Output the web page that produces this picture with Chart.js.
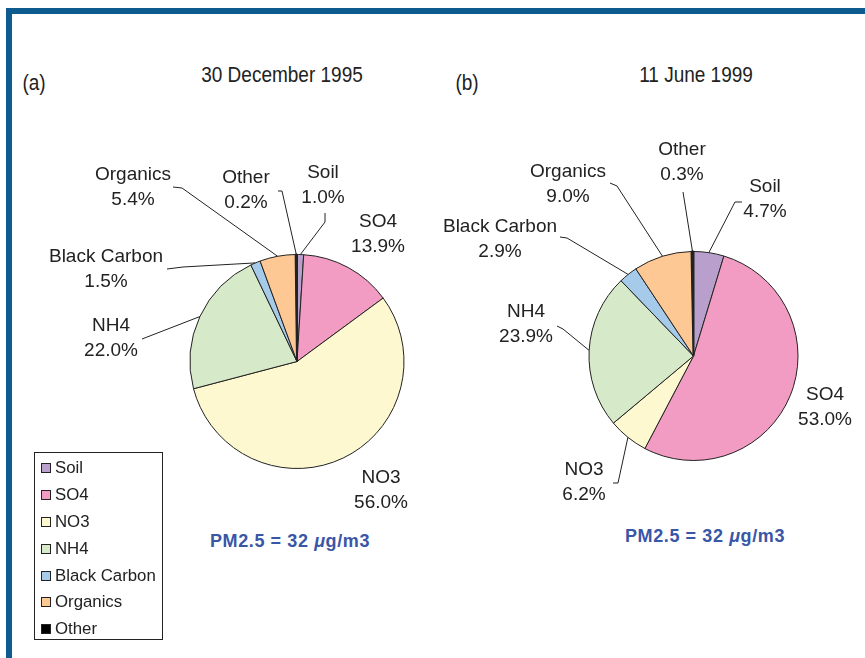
<!DOCTYPE html>
<html>
<head>
<meta charset="utf-8">
<script src="https://cdn.jsdelivr.net/npm/chart.js@4.4.1/dist/chart.umd.min.js"></script>
<style>
  html, body { margin: 0; padding: 0; background: #fff; }
  body { width: 865px; height: 658px; position: relative; overflow: hidden;
         font-family: "Liberation Sans", Arial, sans-serif; color: #222; }
  .frame { position: absolute; left: 6px; top: 8px; width: 900px; height: 700px;
           border-left: 6px solid #0d5b8f; border-top: 6px solid #0d5b8f; }
  canvas { position: absolute; left: 0; top: 0; }
  .txt { position: absolute; white-space: nowrap; line-height: 1; }
  .title { font-size: 19px; transform: translate(-50%, -50%) scaleY(1.12); }
  .pm { font-size: 18px; font-weight: bold; color: #3a56a6; letter-spacing: 0.6px;
        transform: translate(-50%, -50%); }
  .pm i { font-weight: bold; }
  #legend { position: absolute; left: 34px; top: 452px; width: 129px; height: 188px;
            border: 1px solid #222; box-sizing: border-box; padding-top: 2px; }
  #legend div { height: 26.8px; display: flex; align-items: center; font-size: 16.8px; }
  #legend span.sw { width: 8px; height: 8px; border: 1px solid #222; margin: 0 4px 0 6px; }
</style>
</head>
<body>
<div class="frame"></div>

<div class="txt title" style="left:34px; top:83px;">(a)</div>
<div class="txt title" style="left:282px; top:75px;">30 December 1995</div>
<div class="txt title" style="left:467px; top:83px;">(b)</div>
<div class="txt title" style="left:696px; top:75px;">11 June 1999</div>

<div class="txt pm" style="left:290px; top:541px;">PM2.5 = 32 <i>μ</i>g/m3</div>
<div class="txt pm" style="left:705px; top:536px;">PM2.5 = 32 <i>μ</i>g/m3</div>

<canvas id="pieA" width="865" height="658"></canvas>
<canvas id="pieB" width="865" height="658"></canvas>
<div id="legend"></div>

<script>
// PM2.5 composition, percent of mass
const components = ['Soil', 'SO4', 'NO3', 'NH4', 'Black Carbon', 'Organics', 'Other'];
const dec1995 = [1.0, 13.9, 56.0, 22.0, 1.5, 5.4, 0.2];
const jun1999 = [4.7, 53.0, 6.2, 23.9, 2.9, 9.0, 0.3];

const sliceColors = ['#b9a0cc', '#f39cc3', '#fdf8cf', '#d6e9c8', '#a6cbea', '#fdc894', '#000000'];

// label placement: centre of first text line, then leader points (the leader ends on the slice)
const layoutA = [
  { text: [323, 173], lead: [[325, 213], [325, 222]] },
  { text: [378, 222], lead: null },
  { text: [381, 478], lead: null },
  { text: [111, 326], lead: [[142, 339]] },
  { text: [106, 257], lead: [[167, 269], [183, 267]] },
  { text: [133, 175], lead: [[173, 187], [182, 188]] },
  { text: [246, 178], lead: [[278, 191], [282, 191]] }
];
const layoutB = [
  { text: [765, 187], lead: [[742, 202], [735, 202]] },
  { text: [825, 395], lead: null },
  { text: [584, 470], lead: [[613, 483], [618, 483]] },
  { text: [526, 312], lead: [[557, 326], [563, 329]] },
  { text: [500, 227], lead: [[560, 237], [567, 238]] },
  { text: [568, 172], lead: [[610, 183], [617, 186]] },
  { text: [682, 150], lead: [[683, 192]] }
];

const sliceLabels = {
  id: 'sliceLabels',
  afterDatasetsDraw(chart, args, opts) {
    const ctx = chart.ctx;
    const meta = chart.getDatasetMeta(0);
    const values = chart.data.datasets[0].data;
    ctx.save();
    ctx.strokeStyle = '#222';
    ctx.lineWidth = 1;
    ctx.fillStyle = '#222';
    ctx.font = '19px "Liberation Sans", Arial, sans-serif';
    ctx.textAlign = 'center';
    ctx.textBaseline = 'middle';
    meta.data.forEach((arc, i) => {
      const p = arc.getProps(['x', 'y', 'startAngle', 'endAngle', 'outerRadius'], true);
      const mid = (p.startAngle + p.endAngle) / 2;
      const ex = p.x + Math.cos(mid) * p.outerRadius;
      const ey = p.y + Math.sin(mid) * p.outerRadius;
      const lay = opts.layout[i];
      if (lay.lead) {
        ctx.beginPath();
        ctx.moveTo(lay.lead[0][0], lay.lead[0][1]);
        lay.lead.slice(1).forEach(pt => ctx.lineTo(pt[0], pt[1]));
        ctx.lineTo(ex, ey);
        ctx.stroke();
      }
      ctx.fillText(chart.data.labels[i], lay.text[0], lay.text[1]);
      ctx.fillText(values[i].toFixed(1) + '%', lay.text[0], lay.text[1] + 25);
    });
    ctx.restore();
  }
};

function makePie(id, values, layout, padding) {
  return new Chart(document.getElementById(id), {
    type: 'pie',
    data: {
      labels: components,
      datasets: [{
        data: values,
        backgroundColor: sliceColors,
        borderColor: '#222',
        borderWidth: [1, 1, 1, 1, 1, 1, 2] // the tiny "Other" slice reads as a heavy black line
      }]
    },
    options: {
      responsive: false,
      animation: false,
      layout: { padding: padding },
      plugins: {
        legend: { display: false },
        tooltip: { enabled: false },
        sliceLabels: { layout: layout }
      }
    },
    plugins: [sliceLabels]
  });
}

makePie('pieA', dec1995, layoutA, { left: 189, top: 253, right: 460, bottom: 188 });
makePie('pieB', jun1999, layoutB, { left: 588, top: 250, right: 66, bottom: 196 });

// legend box
const legend = document.getElementById('legend');
components.forEach((name, i) => {
  const row = document.createElement('div');
  row.innerHTML = '<span class="sw" style="background:' + sliceColors[i] + '"></span>' + name;
  legend.appendChild(row);
});
</script>
</body>
</html>
